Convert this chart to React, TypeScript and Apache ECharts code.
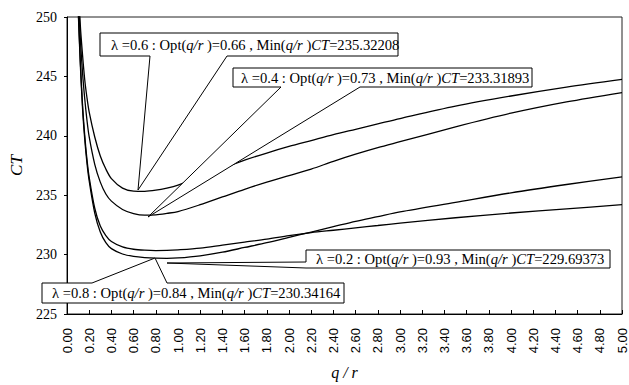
import React, { useEffect, useRef } from "react";
import * as echarts from "echarts";

// x = q/r
const xValues = [0.09, 0.1, 0.12, 0.14, 0.16, 0.18, 0.2, 0.25, 0.3, 0.35, 0.4, 0.5, 0.6, 0.7, 0.8, 0.9, 1.0, 1.2, 1.4, 1.6, 1.8, 2.0, 2.2, 2.4, 2.6, 2.8, 3.0, 3.5, 4.0, 4.5, 5.0];

// CT for each lambda
const ctLambda06 = [256, 253.5, 249.3, 246.8, 244.7, 243.2, 242.0, 239.9, 238.3, 237.2, 236.4, 235.6, 235.35, 235.33, 235.42, 235.6, 235.85, 236.55, 237.25, 237.95, 238.55, 239.1, 239.6, 240.1, 240.55, 241.0, 241.45, 242.5, 243.35, 244.1, 244.75];
const ctLambda04 = [255, 252.3, 248.2, 245.3, 243.1, 241.3, 239.9, 237.6, 236.1, 235.1, 234.5, 233.8, 233.45, 233.32, 233.35, 233.47, 233.62, 234.2, 234.85, 235.5, 236.1, 236.65, 237.2, 237.85, 238.45, 239.0, 239.5, 240.75, 241.9, 242.85, 243.64];
const ctLambda08 = [254, 251.0, 246.3, 242.6, 240.0, 238.0, 236.5, 233.9, 232.4, 231.6, 231.1, 230.65, 230.45, 230.37, 230.34, 230.35, 230.4, 230.55, 230.8, 231.05, 231.3, 231.6, 231.85, 232.05, 232.25, 232.45, 232.65, 233.1, 233.5, 233.85, 234.2];
const ctLambda02 = [253.8, 250.8, 246.0, 242.3, 239.7, 237.7, 236.2, 233.5, 231.9, 231.0, 230.5, 230.05, 229.85, 229.75, 229.7, 229.69, 229.72, 229.9, 230.2, 230.6, 231.0, 231.45, 231.9, 232.35, 232.8, 233.2, 233.6, 234.4, 235.2, 235.9, 236.55];

// annotation values
const annLambdas = ["0.6", "0.4", "0.2", "0.8"];
const annOpt = ["0.66", "0.73", "0.93", "0.84"];
const annMin = ["235.32208", "233.31893", "229.69373", "230.34164"];

const SERIF = "Liberation Serif, Times New Roman, serif";
const SANS = "Liberation Sans, Arial, sans-serif";
const FS = 14.6;

function richLabel(i: number) {
  return (
    "{n|\u03bb =" + annLambdas[i] + " : Opt(}{i|q/r }{n|)=" + annOpt[i] +
    " , Min(}{i|q/r }{n|)}{i|CT}{n|=" + annMin[i] + "}"
  );
}

const rich = {
  n: { fontFamily: SERIF, fontSize: FS, fill: "#000" },
  i: { fontFamily: SERIF, fontSize: FS, fontStyle: "italic", fill: "#000" },
};

function callout(points: number[][], tx: number, ty: number, i: number) {
  return [
    {
      type: "polygon",
      z: 100,
      shape: { points },
      style: { fill: "#fff", stroke: "#000", lineWidth: 1 },
    },
    {
      type: "text",
      z: 101,
      x: tx,
      y: ty,
      style: {
        text: richLabel(i),
        rich,
        fontFamily: SERIF,
        fontSize: FS,
        fill: "#000",
        verticalAlign: "middle",
        align: "left",
      },
    },
  ];
}

export default function App() {
  const ref = useRef<HTMLDivElement>(null);
  useEffect(() => {
    if (!ref.current) return;
    const chart = echarts.init(ref.current, null, { renderer: "svg" });
    const mk = (arr: number[]) => xValues.map((x, k) => [x, arr[k]]);
    const lineStyle = { color: "#000", width: 1.3 };
    const seriesBase = {
      type: "line",
      showSymbol: false,
      smooth: 0.3,
      clip: true,
      lineStyle,
      silent: true,
    };
    chart.setOption({
      animation: false,
      backgroundColor: "#fff",
      grid: {
        left: 67,
        right: 7,
        top: 17,
        bottom: 68,
        show: true,
        borderColor: "#222",
        borderWidth: 1,
        backgroundColor: "transparent",
      },
      xAxis: {
        type: "value",
        min: 0,
        max: 5,
        interval: 0.2,
        name: "q / r",
        nameLocation: "middle",
        nameGap: 50,
        nameTextStyle: { fontFamily: SERIF, fontStyle: "italic", fontSize: 16, color: "#000" },
        axisLine: { lineStyle: { color: "#000", width: 1 } },
        axisTick: { inside: true, length: 4, lineStyle: { color: "#000" } },
        axisLabel: {
          rotate: 90,
          margin: 14,
          fontFamily: SANS,
          fontSize: 13,
          color: "#000",
          formatter: (v: number) => v.toFixed(2),
        },
        splitLine: { show: false },
      },
      yAxis: {
        type: "value",
        min: 225,
        max: 250,
        interval: 5,
        name: "CT",
        nameLocation: "middle",
        nameGap: 42,
        nameTextStyle: { fontFamily: SERIF, fontStyle: "italic", fontSize: 17, color: "#000" },
        axisLine: { show: true, lineStyle: { color: "#000", width: 1 } },
        axisTick: { show: true, length: 3, lineStyle: { color: "#000" } },
        axisLabel: { margin: 10, fontFamily: SERIF, fontSize: 14, color: "#000" },
        splitLine: { show: false },
      },
      series: [
        { ...seriesBase, name: "\u03bb=0.6", data: mk(ctLambda06) },
        { ...seriesBase, name: "\u03bb=0.4", data: mk(ctLambda04) },
        { ...seriesBase, name: "\u03bb=0.8", data: mk(ctLambda08) },
        { ...seriesBase, name: "\u03bb=0.2", data: mk(ctLambda02) },
      ],
      graphic: [
        ...callout(
          [[100, 33], [398, 33], [398, 56], [227, 56], [138, 190], [150, 56], [100, 56]],
          111, 45, 0
        ),
        ...callout(
          [[233, 68], [532, 68], [532, 87], [360, 87], [148, 217], [281, 87], [233, 87]],
          241, 78, 1
        ),
        ...callout(
          [[306, 250], [610, 250], [610, 268], [306, 268], [167, 263], [306, 262]],
          316, 259, 2
        ),
        ...callout(
          [[42, 283], [92, 283], [155, 258], [167, 283], [344, 283], [344, 303], [42, 303]],
          52, 293, 3
        ),
      ],
    });
    return () => chart.dispose();
  }, []);
  return (
    <div
      ref={ref}
      style={{ position: "absolute", left: 0, top: 0, width: 629, height: 385 }}
    />
  );
}
